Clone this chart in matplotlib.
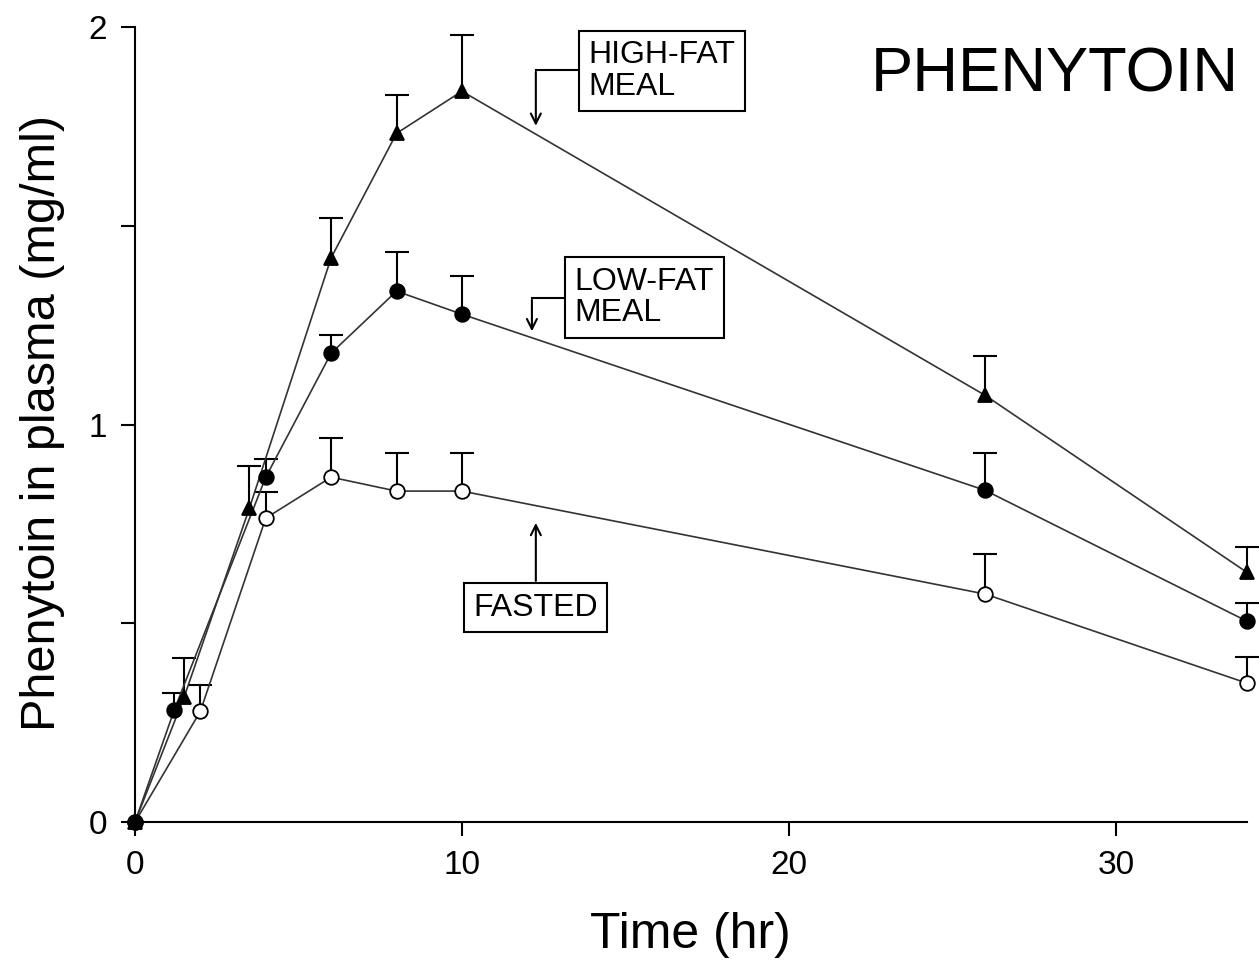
import matplotlib
matplotlib.use("Agg")
import matplotlib.pyplot as plt
import numpy as np

plt.rcParams['font.family'] = ['Liberation Sans', 'DejaVu Sans']

# Data (time in hr, concentration, upper SEM)
fasted_t = [0, 2, 4, 6, 8, 10, 26, 34]
fasted_y = [0, 0.279, 0.765, 0.868, 0.833, 0.833, 0.574, 0.350]
fasted_err = [0, 0.066, 0.065, 0.098, 0.097, 0.097, 0.100, 0.065]

lowfat_t = [0, 1.2, 4, 6, 8, 10, 26, 34]
lowfat_y = [0, 0.282, 0.868, 1.18, 1.336, 1.278, 0.835, 0.506]
lowfat_err = [0, 0.043, 0.045, 0.045, 0.098, 0.096, 0.095, 0.045]

highfat_t = [0, 1.5, 3.5, 6, 8, 10, 26, 34]
highfat_y = [0, 0.314, 0.79, 1.42, 1.733, 1.839, 1.074, 0.629]
highfat_err = [0, 0.099, 0.106, 0.10, 0.096, 0.141, 0.098, 0.063]

x_ticks = [0, 10, 20, 30]
y_ticks = [0, 0.5, 1, 1.5, 2]
y_ticklabels = ['0', '', '1', '', '2']

fig = plt.figure(figsize=(12.59, 9.73), dpi=100)
ax = fig.add_axes([0.1072, 0.155, 0.883, 0.817])
ax.set_xlim(0, 34)
ax.set_ylim(0, 2)

line_kw = dict(color='#333333', lw=1.2, zorder=2)
series = [
    (fasted_t, fasted_y, fasted_err, 'o', 'white'),
    (lowfat_t, lowfat_y, lowfat_err, 'o', 'black'),
    (highfat_t, highfat_y, highfat_err, '^', 'black'),
]
for t, y, e, m, fc in series:
    t = np.array(t); y = np.array(y); e = np.array(e)
    mask = e > 0
    ax.vlines(t[mask], y[mask], y[mask] + e[mask], color='black', lw=1.5, zorder=1, clip_on=False)
    ax.plot(t[mask], y[mask] + e[mask], ls='none', marker='_', ms=17, mew=1.5,
            color='black', zorder=1, clip_on=False)
    ax.plot(t, y, **line_kw, clip_on=False)
    ax.plot(t, y, ls='none', marker=m, ms=10.5, mfc=fc, mec='black', mew=1.3,
            zorder=3, clip_on=False)

for s in ['top', 'right']:
    ax.spines[s].set_visible(False)
for s in ['left', 'bottom']:
    ax.spines[s].set_linewidth(1.5)

ax.set_xticks(x_ticks)
ax.set_xticklabels([str(v) for v in x_ticks])
ax.set_yticks(y_ticks)
ax.set_yticklabels(y_ticklabels)
ax.tick_params(direction='out', length=10, width=1.5, labelsize=24, pad=10)

ax.set_xlabel('Time (hr)', fontsize=36, labelpad=22)
ax.set_ylabel('Phenytoin in plasma (mg/ml)', fontsize=35)
ax.yaxis.set_label_coords(-0.063, 0.502)

ax.text(0.993, 0.94, 'PHENYTOIN', transform=ax.transAxes, ha='right', va='center',
        fontsize=45.5)

box = dict(boxstyle='square,pad=0.3', fc='white', ec='black', lw=1.5)
arrow = dict(arrowstyle='->', color='black', lw=1.5, mutation_scale=18)

# HIGH-FAT MEAL
ax.text(13.88, 1.89, 'HIGH-FAT\nMEAL', fontsize=23, va='center', ha='left', bbox=box,
        linespacing=1.05)
ax.plot([12.26, 13.8], [1.892, 1.892], color='black', lw=1.5)
ax.annotate('', xy=(12.26, 1.745), xytext=(12.26, 1.895), arrowprops=arrow)

# LOW-FAT MEAL
ax.text(13.45, 1.32, 'LOW-FAT\nMEAL', fontsize=23, va='center', ha='left', bbox=box,
        linespacing=1.05)
ax.plot([12.14, 13.4], [1.318, 1.318], color='black', lw=1.5)
ax.annotate('', xy=(12.14, 1.228), xytext=(12.14, 1.321), arrowprops=arrow)

# FASTED
ax.text(12.25, 0.54, 'FASTED', fontsize=23, va='center', ha='center', bbox=box)
ax.annotate('', xy=(12.26, 0.76), xytext=(12.26, 0.60), arrowprops=arrow)

fig.savefig('out.png', dpi=100)
